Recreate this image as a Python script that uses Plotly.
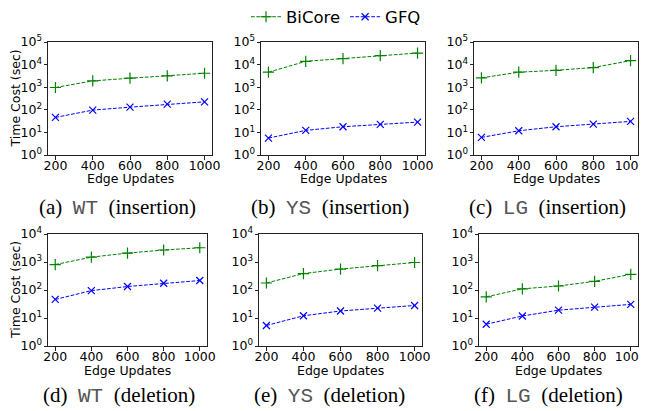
import plotly.graph_objects as go

edge_updates = [200, 400, 600, 800, 1000]

wt_ins_bicore = [970, 1900, 2500, 3200, 4150]
wt_ins_gfq = [46, 97, 131, 178, 225]
ys_ins_bicore = [4600, 14000, 18500, 25000, 32500]
ys_ins_gfq = [5.6, 12.3, 17.8, 22.5, 28.6]
lg_ins_bicore = [2600, 4600, 5600, 7400, 15000]
lg_ins_gfq = [6.0, 11.8, 17.8, 23.3, 30.7]

wt_del_bicore = [810, 1490, 2080, 2680, 3230]
wt_del_gfq = [46, 95, 133, 174, 218]
ys_del_bicore = [178, 386, 560, 740, 960]
ys_del_gfq = [5.4, 12, 17.8, 22.6, 28]
lg_del_bicore = [57, 110, 139, 204, 363]
lg_del_gfq = [6.0, 11.8, 19, 24.6, 30.7]

captions = [
    ("(a)", "WT", "(insertion)"), ("(b)", "YS", "(insertion)"), ("(c)", "LG", "(insertion)"),
    ("(d)", "WT", "(deletion)"), ("(e)", "YS", "(deletion)"), ("(f)", "LG", "(deletion)"),
]

panels = [
    (wt_ins_bicore, wt_ins_gfq, 5), (ys_ins_bicore, ys_ins_gfq, 5), (lg_ins_bicore, lg_ins_gfq, 5),
    (wt_del_bicore, wt_del_gfq, 4), (ys_del_bicore, ys_del_gfq, 4), (lg_del_bicore, lg_del_gfq, 4),
]

# the page body has an 8px default margin; work in window pixels and convert
OFF = 8
W, H = 647 - OFF, 411 - OFF


def px(X):
    return (X - OFF) / W


def py(Y):
    return 1 - (Y - OFF) / H


# axes boxes in window pixels (x0, x1, y0, y1), top-based
boxes = [
    (48, 212, 42, 155), (261, 425, 42, 155), (474, 638, 42, 155),
    (48, 207, 234, 346), (259, 422, 234, 346), (479, 638, 234, 346),
]
cap_pos = [(117, 207), (330, 207), (547, 207), (119, 395), (330, 395), (548, 395)]
xtitle_y = [178, 178, 178, 370, 370, 370]

fig = go.Figure()
FONT = "DejaVu Sans"
DASH = "3.7px,1.6px"
annotations = []
for i, ((bic, gfq, top), (x0, x1, y0, y1)) in enumerate(zip(panels, boxes)):
    k = "" if i == 0 else str(i + 1)
    xa, ya = "x" + k, "y" + k
    fig.add_trace(go.Scatter(
        x=edge_updates, y=bic, xaxis=xa, yaxis=ya, name="BiCore", showlegend=(i == 0),
        mode="lines+markers",
        line=dict(color="#008000", width=1, dash=DASH),
        marker=dict(symbol="cross-thin", size=8, color="#008000", line=dict(color="#008000", width=1.2)),
    ))
    fig.add_trace(go.Scatter(
        x=edge_updates, y=gfq, xaxis=xa, yaxis=ya, name="GFQ", showlegend=(i == 0),
        mode="lines+markers",
        line=dict(color="#0000FF", width=1, dash=DASH),
        marker=dict(symbol="x-thin", size=7, color="#0000FF", line=dict(color="#0000FF", width=1.2)),
    ))
    tv = [10 ** e for e in range(top + 1)]
    tt = ["10<sup>%d</sup>" % e for e in range(top + 1)]
    common = dict(showline=True, linecolor="#222", linewidth=1, mirror=True, ticks="outside",
                  ticklen=3.5, tickwidth=1, tickcolor="#222", showgrid=False, zeroline=False,
                  automargin=False,
                  tickfont=dict(family=FONT, size=12.5, color="black"))
    fig.layout["xaxis" + k] = dict(
        domain=[px(x0), px(x1)], anchor=ya, range=[160, 1040],
        tickvals=edge_updates, ticktext=[str(v) for v in edge_updates],
        ticklabelstandoff=-5,
        **common)
    fig.layout["yaxis" + k] = dict(
        domain=[py(y1), py(y0)], anchor=xa, type="log", range=[0, top],
        tickvals=tv, ticktext=tt, ticklabelstandoff=-1, **common)
    # axis titles
    annotations.append(dict(
        x=px((x0 + x1) / 2), y=py(xtitle_y[i]), xref="paper", yref="paper",
        xanchor="center", yanchor="middle", showarrow=False, text="Edge Updates",
        font=dict(family=FONT, size=12.5, color="black")))
    if i % 3 == 0:
        annotations.append(dict(
            x=px(15), y=py((y0 + y1) / 2), xref="paper", yref="paper",
            xanchor="center", yanchor="middle", showarrow=False, text="Time Cost (sec)",
            textangle=-90, font=dict(family=FONT, size=12.5, color="black")))
    a, b, c = captions[i]
    cx, cy = cap_pos[i]
    annotations.append(dict(
        x=px(cx), y=py(cy), xref="paper", yref="paper", xanchor="center", yanchor="middle",
        showarrow=False,
        text=a + "  <span style=\"font-family:'Liberation Mono';color:#555\">" + b + "</span>  " + c,
        font=dict(family="Liberation Serif", size=21, color="black"),
    ))

fig.update_layout(
    width=W, height=H, margin=dict(l=0, r=0, t=0, b=0, autoexpand=False),
    paper_bgcolor="white", plot_bgcolor="white",
    annotations=annotations,
    showlegend=True,
    legend=dict(orientation="h", x=px(336), xanchor="center", y=py(17), yanchor="middle",
                font=dict(family=FONT, size=16.5, color="black"), bgcolor="rgba(0,0,0,0)",
                itemwidth=30, tracegroupgap=0),
)
fig.write_html("out.html")
